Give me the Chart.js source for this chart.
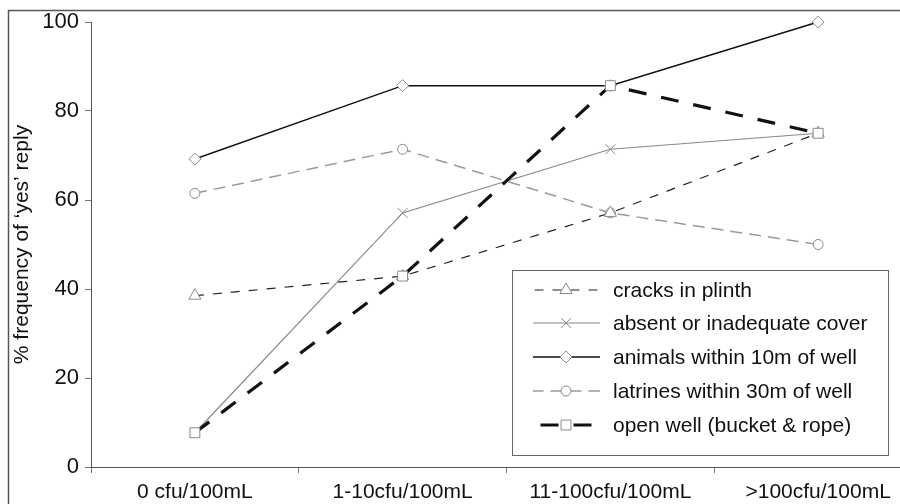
<!DOCTYPE html>
<html>
<head>
<meta charset="utf-8">
<script src="https://cdn.jsdelivr.net/npm/chart.js@4"></script>
<style>
  html, body { margin: 0; padding: 0; background: #fff; overflow: hidden; }
  #wrap { position: relative; width: 930px; height: 504px; }
</style>
</head>
<body>
<div id="wrap"><canvas id="chart" width="930" height="504"></canvas></div>
<script>
const categories = ['0 cfu/100mL', '1-10cfu/100mL', '11-100cfu/100mL', '>100cfu/100mL'];
const yTicks = [0, 20, 40, 60, 80, 100];

const cracks = [38.5, 42.9, 57.1, 75];
const cover = [7.7, 57.1, 71.4, 75];
const animals = [69.2, 85.7, 85.7, 100];
const latrines = [61.5, 71.4, 57.1, 50];
const openWell = [7.7, 42.9, 85.7, 75];

const FONT = '"Liberation Sans", Arial, sans-serif';

function series(label, data, color, width, dash, marker, size, order) {
    return {
        label, data, order,
        borderColor: color,
        borderWidth: width,
        borderDash: dash,
        pointStyle: marker,
        pointRadius: size,
        pointBorderColor: '#8a8a8a',
        pointBackgroundColor: '#fff',
        pointBorderWidth: 1,
        tension: 0,
        fill: false,
        clip: false,
    };
}

// box frame around the whole figure and the legend drawn inside the plot
const framePlugin = {
    id: 'frame',
    beforeDraw(chart) {
        const ctx = chart.ctx;
        ctx.save();
        ctx.strokeStyle = '#555';
        ctx.lineWidth = 1.5;
        ctx.strokeRect(8.5, 10.5, 1000, 600);
        ctx.restore();
    },
    afterDraw(chart) {
        const ctx = chart.ctx;
        ctx.save();
        ctx.fillStyle = '#fff';
        ctx.fillRect(512, 270, 376, 185);
        ctx.strokeStyle = '#666';
        ctx.lineWidth = 1;
        ctx.strokeRect(512.5, 270.5, 376, 185);
        const rows = [290, 323, 357, 391, 425];
        const x0 = 533, x1 = 600, xm = 566;
        chart.data.datasets.forEach((ds, i) => {
            const y = rows[i];
            const dash = ds.borderDash || [];
            ctx.beginPath();
            ctx.setLineDash(dash);
            // centre a gap on the marker so the sample reads "- o -"
            ctx.lineDashOffset = dash.length ? dash[0] + dash[1] / 2 - (xm - x0) : 0;
            ctx.strokeStyle = ds.borderColor;
            ctx.lineWidth = ds.borderWidth;
            ctx.moveTo(x0, y);
            ctx.lineTo(x1, y);
            ctx.stroke();
            ctx.setLineDash([]);
            ctx.lineDashOffset = 0;
            ctx.fillStyle = '#fff';
            ctx.strokeStyle = ds.pointBorderColor;
            ctx.lineWidth = 1;
            Chart.helpers.drawPoint(ctx, { pointStyle: ds.pointStyle, radius: ds.pointRadius, borderWidth: 1, rotation: 0 }, xm, y);
            ctx.fillStyle = '#111';
            ctx.font = '21px ' + FONT;
            ctx.textBaseline = 'middle';
            ctx.fillText(ds.label, 613, y + 1);
        });
        ctx.restore();
    }
};

new Chart(document.getElementById('chart'), {
    type: 'line',
    data: {
        labels: categories,
        datasets: [
            series('cracks in plinth', cracks, '#222', 1.2, [9, 9], 'triangle', 7, 3),
            series('absent or inadequate cover', cover, '#888', 1.2, [], 'crossRot', 7, 4),
            series('animals within 10m of well', animals, '#111', 1.5, [], 'rectRot', 6, 2),
            series('latrines within 30m of well', latrines, '#9a9a9a', 1.5, [12, 7], 'circle', 5, 5),
            series('open well (bucket & rope)', openWell, '#111', 3.2, [18, 15], 'rect', 7, 1),
        ],
    },
    options: {
        responsive: false,
        animation: false,
        layout: { padding: { left: 10, right: 7, top: 22, bottom: 0 } },
        plugins: { legend: { display: false }, tooltip: { enabled: false } },
        scales: {
            x: {
                type: 'category',
                offset: true,
                afterFit: (s) => { s.height = 37; },
                border: { color: '#555', width: 1 },
                grid: { display: true, offset: true, drawOnChartArea: false, drawTicks: true, tickLength: 6, color: '#777' },
                ticks: { color: '#111', padding: 7, font: { family: FONT, size: 21 }, maxRotation: 0, autoSkip: false },
            },
            y: {
                min: 0,
                max: 100,
                afterFit: (s) => { s.width = 81; },
                afterBuildTicks: (s) => { s.ticks = yTicks.map((v) => ({ value: v })); },
                border: { color: '#555', width: 1 },
                grid: { display: true, drawOnChartArea: false, drawTicks: true, tickLength: 6, color: '#777' },
                ticks: { color: '#111', padding: 6, font: { family: FONT, size: 22 } },
                title: {
                    display: true,
                    text: "% frequency of \u2018yes\u2019 reply",
                    color: '#111',
                    padding: { top: 0, bottom: 0 },
                    font: { family: FONT, size: 21 },
                },
            },
        },
    },
    plugins: [framePlugin],
});
</script>
</body>
</html>
